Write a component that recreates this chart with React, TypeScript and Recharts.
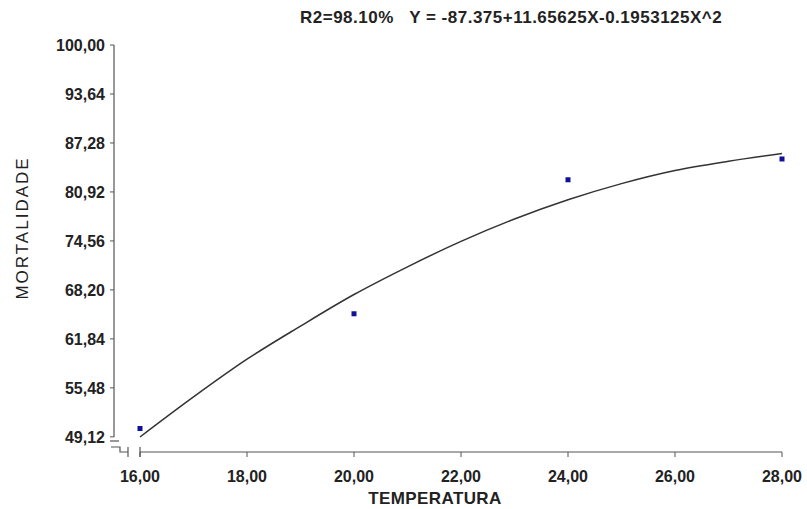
import { ComposedChart, Line, Scatter, XAxis, YAxis, Customized } from "recharts";

const xTicks = [16, 18, 20, 22, 24, 26, 28];
const yTicks = [49.12, 55.48, 61.84, 68.2, 74.56, 80.92, 87.28, 93.64, 100];

// observed points
const obsTemp = [16, 20, 24, 28];
const obsMort = [50.2, 65.1, 82.5, 85.2];

// fitted curve
const fitTemp = [16, 17, 18, 19, 20, 21, 22, 23, 24, 25, 26, 27, 28];
const fitMort = [49.1, 54.3, 59.2, 63.5, 67.6, 71.2, 74.5, 77.4, 79.9, 82.0, 83.7, 84.9, 85.9];

const title = "R2=98.10%   Y = -87.375+11.65625X-0.1953125X^2";

const obs = obsTemp.map((x, i) => ({ x, y: obsMort[i] }));
const fit = fitTemp.map((x, i) => ({ x, y: fitMort[i] }));

const FONT = "'Liberation Sans', Arial, sans-serif";
const AXIS = "#555";
const fmt = (v: number) => v.toFixed(2).replace(".", ",");

// layout
const W = 807;
const H = 509;
const LEFT = 114;
const RIGHT = 782;
const TOP = 45;
const BOTTOM = 452;
const PAD_X = 26;
const PAD_Y = 15;

const Square = (p: any) => <rect x={p.cx - 2.5} y={p.cy - 2.5} width={5} height={5} fill="#10109a" />;

const Decor = () => {
  const x0 = LEFT + PAD_X;
  const y0 = BOTTOM - PAD_Y;
  return (
    <g fontFamily={FONT}>
      <text x={300} y={23} fontSize={17} fontWeight="bold" fill="#222" letterSpacing={0.5} style={{ whiteSpace: "pre" }}>
        {title}
      </text>
      <text
        x={28}
        y={228}
        fontSize={17}
        fill="#222"
        letterSpacing={2}
        textAnchor="middle"
        transform="rotate(-90, 28, 228)"
      >
        MORTALIDADE
      </text>
      <text x={435} y={504} fontSize={17} fontWeight="bold" fill="#222" letterSpacing={0.4} textAnchor="middle">
        TEMPERATURA
      </text>
      <g stroke={AXIS} strokeWidth={1.2} fill="none">
        <line x1={LEFT} y1={TOP} x2={LEFT} y2={y0} />
        <line x1={LEFT - 4} y1={y0 + 4} x2={LEFT + 5} y2={y0 + 4} />
        <polyline points={`${LEFT - 3},${y0 + 10} ${LEFT + 6},${y0 + 10} ${LEFT + 6},${BOTTOM} ${LEFT + 14},${BOTTOM}`} />
        <line x1={LEFT + 14} y1={BOTTOM - 5} x2={LEFT + 14} y2={BOTTOM + 5} />
        <line x1={x0} y1={BOTTOM - 5} x2={x0} y2={BOTTOM + 5} />
        <line x1={x0} y1={BOTTOM} x2={RIGHT} y2={BOTTOM} />
      </g>
    </g>
  );
};

const App = () => (
  <div style={{ position: "absolute", left: 0, top: 0, width: W, height: H, background: "#fff" }}>
    <ComposedChart width={W} height={H} margin={{ top: TOP, right: W - RIGHT, bottom: 27, left: 54 }}>
      <XAxis
        type="number"
        dataKey="x"
        domain={[16, 28]}
        ticks={xTicks}
        padding={{ left: PAD_X, right: 0 }}
        height={30}
        axisLine={false}
        tickSize={5}
        tickMargin={14}
        tickLine={{ stroke: AXIS }}
        tickFormatter={fmt}
        tick={{ fontSize: 16, fontWeight: "bold", fill: "#222", fontFamily: FONT }}
      />
      <YAxis
        type="number"
        dataKey="y"
        domain={[49.12, 100]}
        ticks={yTicks}
        padding={{ top: 0, bottom: PAD_Y }}
        width={60}
        axisLine={false}
        tickSize={4}
        tickMargin={5}
        tickLine={{ stroke: AXIS }}
        tickFormatter={fmt}
        interval={0}
        tick={{ fontSize: 16, fontWeight: "bold", fill: "#222", fontFamily: FONT }}
      />
      <Line
        data={fit}
        dataKey="y"
        type="monotone"
        stroke="#333"
        strokeWidth={1.5}
        dot={false}
        isAnimationActive={false}
      />
      <Scatter data={obs} dataKey="y" shape={Square} isAnimationActive={false} />
      <Customized component={<Decor />} />
    </ComposedChart>
  </div>
);

export default App;
